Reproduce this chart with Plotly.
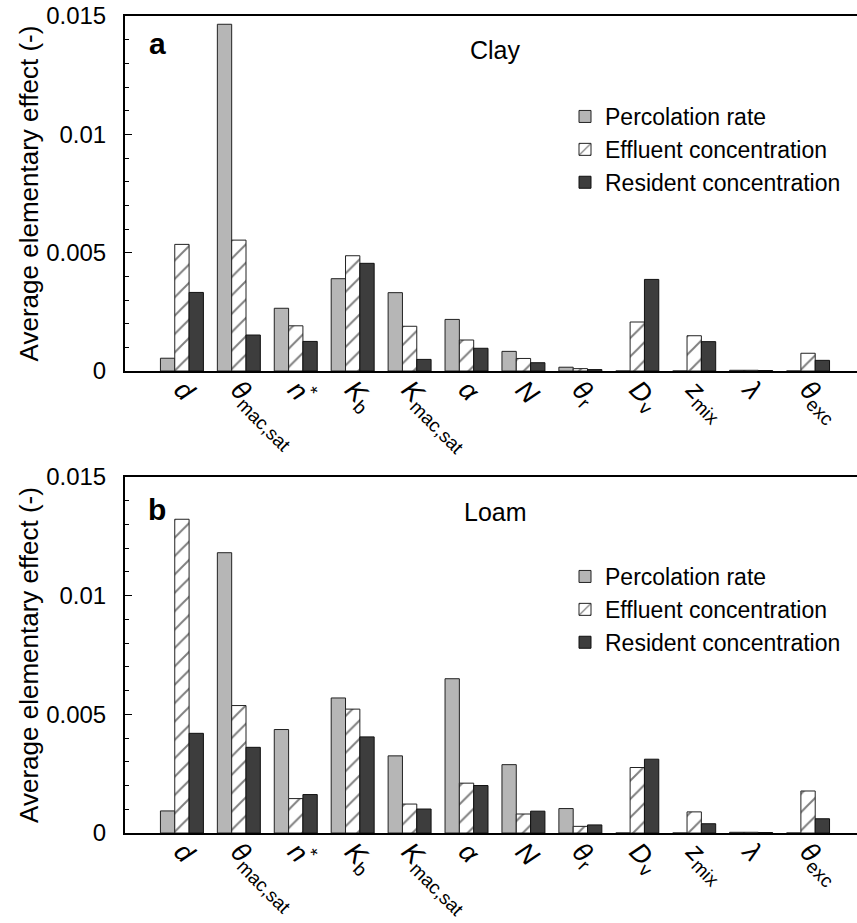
import plotly.graph_objects as go

# ---- data ----
params = ["<i>d</i>", "<i>θ</i><sub>mac,sat</sub>", "<i>n</i><sup>*</sup>", "<i>K</i><sub>b</sub>",
          "<i>K</i><sub>mac,sat</sub>", "<i>α</i>", "<i>N</i>", "<i>θ</i><sub>r</sub>",
          "<i>D</i><sub>v</sub>", "<i>z</i><sub>mix</sub>", "<i>λ</i>", "<i>θ</i><sub>exc</sub>"]

series_names = ["Percolation rate", "Effluent concentration", "Resident concentration"]

clay_perc = [0.00054, 0.01465, 0.00265, 0.00390, 0.00331, 0.00218, 0.00083, 0.00016, 0.0, 0.0, 0.00003, 0.0]
clay_eff = [0.00535, 0.00553, 0.00191, 0.00487, 0.00189, 0.00131, 0.00053, 0.00010, 0.00207, 0.00149, 0.00003, 0.00075]
clay_res = [0.00332, 0.00152, 0.00125, 0.00455, 0.00049, 0.00096, 0.00035, 0.00006, 0.00387, 0.00124, 0.00002, 0.00045]

loam_perc = [0.00093, 0.01181, 0.00436, 0.00569, 0.00325, 0.00650, 0.00288, 0.00103, 0.0, 0.0, 0.00003, 0.0]
loam_eff = [0.01322, 0.00537, 0.00145, 0.00522, 0.00122, 0.00210, 0.00080, 0.00028, 0.00276, 0.00089, 0.00003, 0.00177]
loam_res = [0.00420, 0.00361, 0.00162, 0.00405, 0.00101, 0.00200, 0.00092, 0.00034, 0.00311, 0.00039, 0.00002, 0.00060]

y_ticks = [0, 0.005, 0.01, 0.015]
y_ticktext = ["0", "0.005", "0.01", "0.015"]

W, H = 857, 923
FONT = "Liberation Sans, Arial, Helvetica, sans-serif"

gray = "#b6b6b6"
dark = "#3d3d3d"
edge = "#222222"

fig = go.Figure()

def add_panel(vals, xa, ya, legend):
    styles = [
        dict(color=gray, line=dict(color=edge, width=1)),
        dict(color="white", line=dict(color=edge, width=1),
             pattern=dict(shape="/", fgcolor="#000000", bgcolor="white", size=13, solidity=0.15)),
        dict(color=dark, line=dict(color="#111111", width=1)),
    ]
    for name, v, st in zip(series_names, vals, styles):
        fig.add_trace(go.Bar(x=params, y=v, name=name, marker=st, xaxis=xa, yaxis=ya,
                             legend=legend, hoverinfo="skip"))

add_panel([clay_perc, clay_eff, clay_res], "x", "y", "legend")
add_panel([loam_perc, loam_eff, loam_res], "x2", "y2", "legend2")

xcommon = dict(
    type="category", range=[-1.0, 11.86], domain=[125 / W, 1.0],
    showline=True, linecolor="black", linewidth=2, mirror=True,
    ticks="", tickangle=45, showgrid=False, zeroline=False, automargin=False,
    ticklabelstandoff=-10,
    tickfont=dict(family=FONT, size=27, color="black"),
    fixedrange=True,
)
ycommon = dict(
    range=[0, 0.015], tickvals=y_ticks, ticktext=y_ticktext,
    showline=True, linecolor="black", linewidth=2, mirror=False,
    ticks="inside", ticklen=7, tickwidth=1, tickcolor="black",
    minor=dict(dtick=0.001, ticks="inside", ticklen=4, tickwidth=1, tickcolor="black"),
    showgrid=False, zeroline=False, automargin=False, ticklabelstandoff=12,
    tickfont=dict(family=FONT, size=24, color="black"),
    title=dict(text="Average elementary effect (-)", font=dict(family=FONT, size=26, color="black"), standoff=0),
    fixedrange=True,
)

fig.update_layout(
    width=W, height=H,
    margin=dict(l=0, r=0, t=0, b=0, autoexpand=False),
    paper_bgcolor="white", plot_bgcolor="white",
    barmode="group", bargap=0.245, bargroupgap=0.0,
    xaxis=dict(xcommon, anchor="y"),
    yaxis=dict(ycommon, domain=[1 - 371 / H, 1 - 16 / H], anchor="x"),
    xaxis2=dict(xcommon, anchor="y2"),
    yaxis2=dict(ycommon, domain=[1 - 833 / H, 1 - 477 / H], anchor="x2"),
    legend=dict(x=565 / W, y=1 - 95 / H, xanchor="left", yanchor="top",
                font=dict(family=FONT, size=23, color="black"), bgcolor="rgba(0,0,0,0)",
                tracegroupgap=0, itemclick=False, itemdoubleclick=False),
    legend2=dict(x=565 / W, y=1 - 555 / H, xanchor="left", yanchor="top",
                 font=dict(family=FONT, size=23, color="black"), bgcolor="rgba(0,0,0,0)",
                 tracegroupgap=0, itemclick=False, itemdoubleclick=False),
    showlegend=True,
    annotations=[
        dict(text="<b>a</b>", x=157 / W, y=1 - 44 / H, xref="paper", yref="paper", showarrow=False,
             xanchor="center", yanchor="middle", font=dict(family=FONT, size=30, color="black")),
        dict(text="Clay", x=495 / W, y=1 - 50.5 / H, xref="paper", yref="paper", showarrow=False,
             xanchor="center", yanchor="middle", font=dict(family=FONT, size=25, color="black")),
        dict(text="<b>b</b>", x=157 / W, y=1 - 510 / H, xref="paper", yref="paper", showarrow=False,
             xanchor="center", yanchor="middle", font=dict(family=FONT, size=30, color="black")),
        dict(text="Loam", x=495 / W, y=1 - 512 / H, xref="paper", yref="paper", showarrow=False,
             xanchor="center", yanchor="middle", font=dict(family=FONT, size=25, color="black")),
    ],
)

fig.write_html("out.html", config=dict(displayModeBar=False))
